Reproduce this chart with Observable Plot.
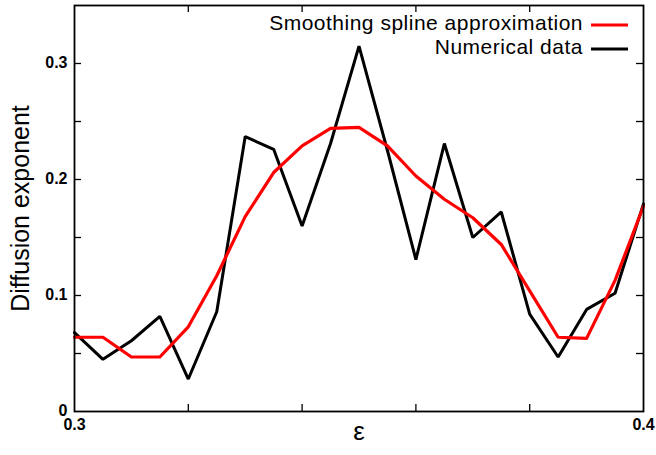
<!DOCTYPE html>
<html><head><meta charset="utf-8">
<script src="https://cdn.jsdelivr.net/npm/d3@7"></script>
<script src="https://cdn.jsdelivr.net/npm/@observablehq/plot@0.6"></script>
<style>body{margin:0;background:#fff}</style>
</head><body><div id="chart"></div>
<script>
const epsilon = [0.300, 0.305, 0.310, 0.315, 0.320, 0.325, 0.330, 0.335, 0.340, 0.345, 0.350,
                 0.355, 0.360, 0.365, 0.370, 0.375, 0.380, 0.385, 0.390, 0.395, 0.400];
const numerical = [0.068, 0.045, 0.061, 0.082, 0.028, 0.086, 0.237, 0.226, 0.160, 0.231, 0.315,
                   0.225, 0.131, 0.231, 0.150, 0.172, 0.084, 0.047, 0.088, 0.102, 0.179];
const spline = [0.064, 0.064, 0.047, 0.047, 0.073, 0.117, 0.168, 0.206, 0.229, 0.244, 0.245,
                0.229, 0.203, 0.183, 0.167, 0.144, 0.104, 0.064, 0.063, 0.113, 0.177];
const seriesNames = ["Smoothing spline approximation", "Numerical data"];
const seriesColors = ["#ff0000", "#000000"];
const yTickLabels = [0, 0.1, 0.2, 0.3];
const yTicks = [0.05, 0.1, 0.15, 0.2, 0.25, 0.3];
const xTickLabels = [0.3, 0.4];
const xTicks = [0.32, 0.34, 0.36, 0.38];
const xLabel = "ε";
const yLabel = "Diffusion exponent";

const FONT = "'Liberation Sans', Arial, Helvetica, sans-serif";

const rowsNum = epsilon.map((e, i) => ({eps: e, value: numerical[i]}));
const rowsSpline = epsilon.map((e, i) => ({eps: e, value: spline[i]}));

function legend(index, scales, values, dims) {
  const g = d3.create("svg:g").attr("font-family", FONT).attr("font-size", 21)
    .attr("letter-spacing", "0.5px");
  const right = dims.width - dims.marginRight;
  const baselines = [30, 54];
  const lineYs = [25, 49];
  seriesNames.forEach((name, i) => {
    g.append("text").attr("x", right - 60).attr("y", baselines[i])
      .attr("text-anchor", "end").attr("fill", "black").text(name);
    g.append("line").attr("x1", right - 52).attr("x2", right - 15)
      .attr("y1", lineYs[i]).attr("y2", lineYs[i])
      .attr("stroke", seriesColors[i]).attr("stroke-width", 3);
  });
  return g.node();
}

const chart = Plot.plot({
  width: 656,
  height: 455,
  marginLeft: 74,
  marginRight: 13,
  marginTop: 5,
  marginBottom: 44,
  style: {fontFamily: FONT, background: "white", color: "black"},
  x: {domain: [0.3, 0.4], axis: null},
  y: {domain: [0, 0.35], axis: null},
  marks: [
    Plot.text(yTickLabels, {y: d => d, frameAnchor: "left", textAnchor: "end", dx: -7, dy: -1,
      text: d => d === 0 ? "0" : d.toFixed(1), fontSize: 16, fontWeight: "bold", fill: "black",
      letterSpacing: "0.5px"}),
    Plot.text(xTickLabels, {x: d => d, frameAnchor: "bottom", lineAnchor: "top", dy: 7,
      text: d => d.toFixed(1), fontSize: 16, fontWeight: "bold", fill: "black",
      letterSpacing: "0.5px"}),
    Plot.ruleX(xTicks, {x: d => d, y1: 0, y2: 0, insetTop: -7, stroke: "black", strokeWidth: 1.3}),
    Plot.ruleX(xTicks, {x: d => d, y1: 0.35, y2: 0.35, insetBottom: -7, stroke: "black", strokeWidth: 1.3}),
    Plot.ruleY(yTicks, {y: d => d, x1: 0.3, x2: 0.3, insetRight: -7, stroke: "black", strokeWidth: 1.3}),
    Plot.ruleY(yTicks, {y: d => d, x1: 0.4, x2: 0.4, insetLeft: -7, stroke: "black", strokeWidth: 1.3}),
    Plot.lineY(rowsNum, {x: "eps", y: "value", stroke: seriesColors[1], strokeWidth: 3, strokeLinejoin: "miter"}),
    Plot.lineY(rowsSpline, {x: "eps", y: "value", stroke: seriesColors[0], strokeWidth: 3.2}),
    Plot.frame({stroke: "black", strokeWidth: 1.8}),
    Plot.text([xLabel], {frameAnchor: "bottom", dy: 28, fontSize: 26, fill: "black"}),
    Plot.text([yLabel], {frameAnchor: "left", textAnchor: "middle", dx: -54, rotate: -90, fontSize: 25, fill: "black"}),
    legend
  ]
});
document.getElementById("chart").appendChild(chart);
</script>
</body></html>
